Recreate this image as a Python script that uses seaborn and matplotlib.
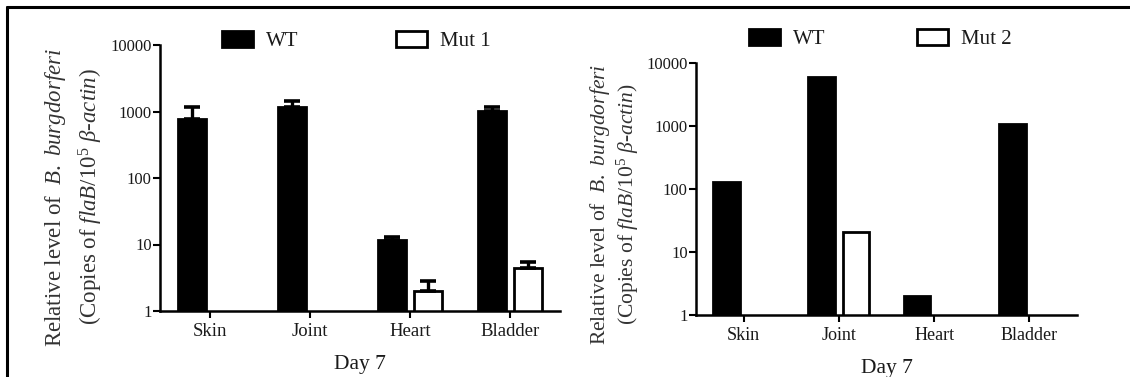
import numpy as np
import pandas as pd
import matplotlib
matplotlib.use("Agg")
import matplotlib.pyplot as plt
from matplotlib.patches import Patch
from matplotlib.lines import Line2D
import seaborn as sns

# ---- data ----
tissues = ["Skin", "Joint", "Heart", "Bladder"]
left_groups = ["WT", "Mut 1"]
left_wt = [762, 1155, 11.7, 1018]
left_wt_err = [421, 300, 1.3, 165]
left_mut = [np.nan, np.nan, 2.0, 4.5]
left_mut_err = [np.nan, np.nan, 0.86, 0.98]

right_groups = ["WT", "Mut 2"]
right_wt = [127, 5990, 2.0, 1086]
right_mut = [np.nan, 20.6, np.nan, np.nan]

yticks = [1, 10, 100, 1000, 10000]
ytick_labels = ["1", "10", "100", "1000", "10000"]
xlabel = "Day 7"
ylabel1 = r"Relative level of  $\mathit{B.\ burgdorferi}$"
ylabel2 = r"(Copies of $\mathit{flaB}$/10$^{5}$ $\mathit{\beta}$-$\mathit{actin}$)"

sns.set_theme(style="white")
plt.rcParams["font.family"] = ["Liberation Serif", "DejaVu Serif"]
plt.rcParams["mathtext.fontset"] = "custom"
plt.rcParams["mathtext.rm"] = "Liberation Serif"
plt.rcParams["mathtext.it"] = "Liberation Serif:italic"
plt.rcParams["mathtext.bf"] = "Liberation Serif:bold"

TXT = "#1a1a1a"

fig = plt.figure(figsize=(11.3, 3.77), dpi=100)
W, H = 1130, 377


def make_df(groups, wt, mut):
    rows = []
    for t, v in zip(tissues, wt):
        rows.append((t, groups[0], v))
    for t, v in zip(tissues, mut):
        rows.append((t, groups[1], v))
    return pd.DataFrame(rows, columns=["tissue", "group", "value"])


def panel(rect, groups, wt, mut, wt_err=None, mut_err=None, xfs=13.5, yfs=12):
    ax = fig.add_axes(rect)
    df = make_df(groups, wt, mut)
    sns.barplot(data=df, x="tissue", y="value", hue="group", order=tissues,
                hue_order=groups, palette={groups[0]: "black", groups[1]: "white"},
                width=0.72, gap=0.22, errorbar=None, legend=False,
                edgecolor="black", linewidth=2.0, ax=ax)
    ax.set_yscale("log")
    ax.set_ylim(1, 10000)
    ax.set_xlim(-0.5, 3.5)
    # error bars (upper only)
    errs = {}
    if wt_err is not None:
        for i in range(4):
            errs[(i, 0)] = wt_err[i]
            errs[(i, 1)] = mut_err[i]
    for p in ax.patches:
        h = p.get_height()
        if not np.isfinite(h) or h <= 0:
            continue
        xc = p.get_x() + p.get_width() / 2
        i = int(round(xc))
        g = 0 if xc < i else 1
        e = errs.get((i, g), np.nan)
        if np.isfinite(e):
            ax.errorbar([xc], [h], yerr=[[0], [e]], fmt="none", ecolor="black",
                        elinewidth=2.4, capsize=5.8, capthick=2.6, zorder=1)
    for s in ["top", "right"]:
        ax.spines[s].set_visible(False)
    for s in ["left", "bottom"]:
        ax.spines[s].set_linewidth(1.8)
        ax.spines[s].set_color("black")
    ax.set_yticks(yticks)
    ax.set_yticklabels(ytick_labels)
    ax.minorticks_off()
    ax.tick_params(axis="y", which="major", left=True, length=5, width=1.5,
                   labelsize=yfs, colors="black", labelcolor=TXT, pad=1)
    ax.tick_params(axis="x", which="major", bottom=True, length=5, width=1.5,
                   labelsize=xfs, colors="black", labelcolor=TXT, pad=3.5)
    ax.set_xlabel(xlabel, fontsize=15.5, color=TXT, labelpad=11)
    ax.set_ylabel("")
    ax.set_facecolor("white")
    return ax


axL = panel([160 / W, 1 - 311 / H, 400 / W, 266 / H], left_groups,
            left_wt, left_mut, left_wt_err, left_mut_err)
axR = panel([696 / W, 1 - 315 / H, 381 / W, 252 / H], right_groups,
            right_wt, right_mut, xfs=13, yfs=12)

# y labels
for x1, x2, yc, fs in [(55, 91, 197, 16.5), (600, 628, 204, 15.5)]:
    fig.text(x1 / W, 1 - yc / H, ylabel1, rotation=90, ha="center", va="center",
             fontsize=fs, color="#333333")
    fig.text(x2 / W, 1 - yc / H, ylabel2, rotation=90, ha="center", va="center",
             fontsize=fs, color="#333333")

# legends
def legend(groups, x, y, colsp):
    handles = [Patch(facecolor="black", edgecolor="black", linewidth=2),
               Patch(facecolor="white", edgecolor="black", linewidth=2)]
    fig.legend(handles, groups, loc="center left", bbox_to_anchor=(x / W, 1 - y / H),
               ncol=2, frameon=False, fontsize=15, handlelength=1.5, handleheight=0.85,
               handletextpad=0.6, columnspacing=colsp, borderpad=0, borderaxespad=0,
               labelcolor=TXT)

legend(left_groups, 222, 41, 4.7)
legend(right_groups, 749, 39, 4.4)

# outer frame lines (top and left)
fig.add_artist(Line2D([7 / W, 1], [1 - 7 / H, 1 - 7 / H], color="black", linewidth=2.2,
                      transform=fig.transFigure))
fig.add_artist(Line2D([7 / W, 7 / W], [0, 1 - 7 / H], color="black", linewidth=2.2,
                      transform=fig.transFigure))

fig.savefig("out.png", dpi=100, facecolor="white")
